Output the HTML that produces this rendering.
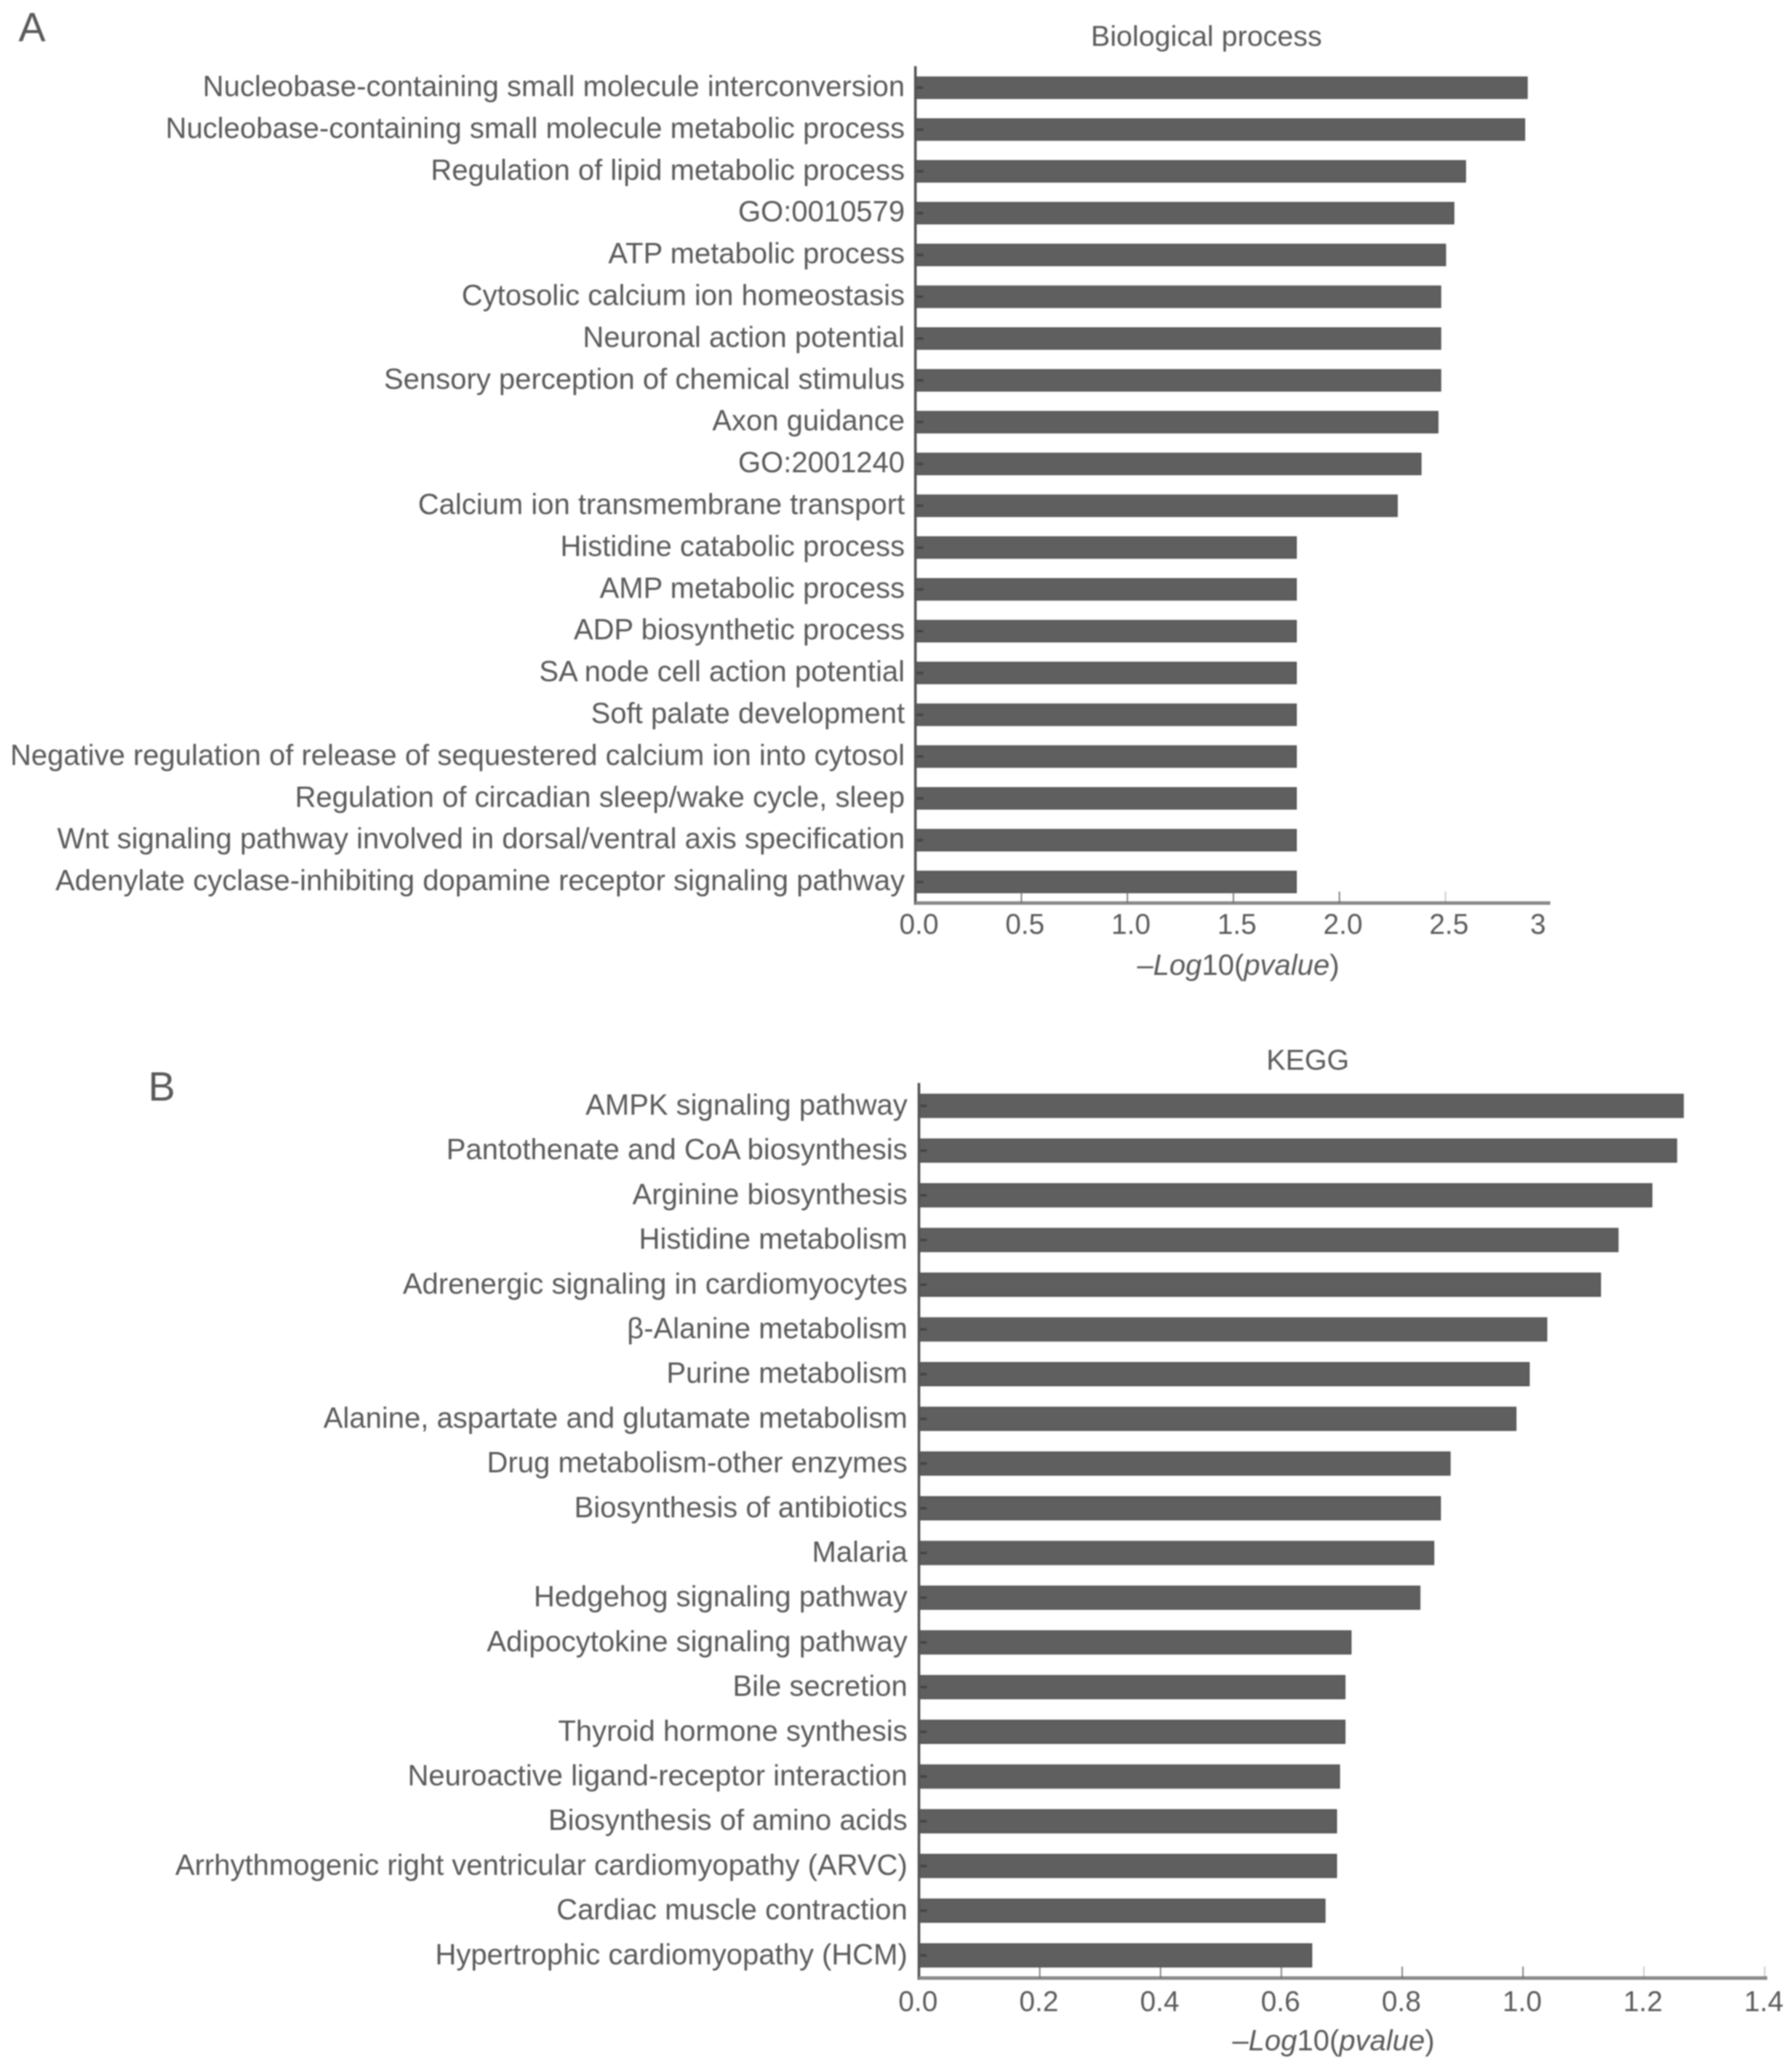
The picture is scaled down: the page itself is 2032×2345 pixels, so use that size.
<!DOCTYPE html>
<html lang="en">
<head>
<meta charset="utf-8">
<title>Biological process and KEGG enrichment</title>
<style>
html,body{margin:0;padding:0;background:#fff;}
svg{display:block;width:2032px;height:2345px;}
text{font-family:"Liberation Sans",sans-serif;fill:#5a5a5a;}
</style>
</head>
<body>
<svg id="chart" xmlns="http://www.w3.org/2000/svg" width="2032" height="2345" viewBox="0 0 2032 2345">
<defs><filter id="soft" x="-2%" y="-2%" width="104%" height="104%"><feGaussianBlur stdDeviation="0.8"/></filter></defs>
<g id="root" filter="url(#soft)"></g>
</svg>
<script>
const bpCategories = ["Nucleobase-containing small molecule interconversion","Nucleobase-containing small molecule metabolic process","Regulation of lipid metabolic process","GO:0010579","ATP metabolic process","Cytosolic calcium ion homeostasis","Neuronal action potential","Sensory perception of chemical stimulus","Axon guidance","GO:2001240","Calcium ion transmembrane transport","Histidine catabolic process","AMP metabolic process","ADP biosynthetic process","SA node cell action potential","Soft palate development","Negative regulation of release of sequestered calcium ion into cytosol","Regulation of circadian sleep/wake cycle, sleep","Wnt signaling pathway involved in dorsal/ventral axis specification","Adenylate cyclase-inhibiting dopamine receptor signaling pathway"];
const bpValues = [2.885,2.873,2.594,2.539,2.50,2.477,2.477,2.477,2.464,2.384,2.272,1.796,1.796,1.796,1.796,1.796,1.796,1.796,1.796,1.796];
const bpTicks = [0,0.5,1,1.5,2,2.5,3];
const bpTickLabels = ["0.0","0.5","1.0","1.5","2.0","2.5","3"];
const keggCategories = ["AMPK signaling pathway","Pantothenate and CoA biosynthesis","Arginine biosynthesis","Histidine metabolism","Adrenergic signaling in cardiomyocytes","β-Alanine metabolism","Purine metabolism","Alanine, aspartate and glutamate metabolism","Drug metabolism-other enzymes","Biosynthesis of antibiotics","Malaria","Hedgehog signaling pathway","Adipocytokine signaling pathway","Bile secretion","Thyroid hormone synthesis","Neuroactive ligand-receptor interaction","Biosynthesis of amino acids","Arrhythmogenic right ventricular cardiomyopathy (ARVC)","Cardiac muscle contraction","Hypertrophic cardiomyopathy (HCM)"];
const keggValues = [1.265,1.254,1.213,1.157,1.128,1.039,1.010,0.988,0.879,0.863,0.852,0.829,0.715,0.705,0.705,0.696,0.691,0.691,0.672,0.650];
const keggTicks = [0,0.2,0.4,0.6,0.8,1,1.2,1.4];
const keggTickLabels = ["0.0","0.2","0.4","0.6","0.8","1.0","1.2","1.4"];

const NS = "http://www.w3.org/2000/svg";
const root = document.getElementById("root");
function mk(parent, tag, attrs, txt) {
  const el = document.createElementNS(NS, tag);
  for (const k in attrs) el.setAttribute(k, attrs[k]);
  if (txt !== undefined) el.textContent = txt;
  parent.appendChild(el);
  return el;
}
function drawPanel(cfg) {
  const g = mk(root, "g", {});
  
  
  const xScale = v => cfg.x0 + v * cfg.unit;
  const yScale = i => cfg.firstY + i * cfg.step;

  const letter = mk(g, "text", {x: cfg.letterX, y: cfg.letterY, "font-size": 46, fill: "#444"}, cfg.letter);
  
  

  const title = mk(g, "text", {x: cfg.titleX, y: cfg.titleY, "font-size": 32.5, "text-anchor": "middle"}, cfg.title);
  
  

  cfg.categories.forEach((c, i) => {
    const label = mk(g, "text", {x: cfg.labelRight, y: yScale(i) + cfg.labelDy, "font-size": cfg.labelSize, "text-anchor": "end"}, c);
    
    
  });

  cfg.values.forEach((v, i) => {
    const bar = mk(g, "rect", {x: xScale(0), y: yScale(i) - cfg.barH / 2, width: xScale(v) - xScale(0), height: cfg.barH, fill: "#5f5f5f", stroke: "#565656", "stroke-width": 1.5});
    
    
    const mark = mk(g, "line", {x1: xScale(0), x2: xScale(0) + 9, y1: yScale(i), y2: yScale(i), stroke: "#444", "stroke-width": 3});
    
    
  });

  const yAxis = mk(g, "line", {x1: cfg.x0, x2: cfg.x0, y1: cfg.axisTop, y2: cfg.baseY + 2, stroke: "#555", "stroke-width": 3});
  
  
  const xAxis = mk(g, "line", {x1: cfg.x0, x2: cfg.axisEnd, y1: cfg.baseY, y2: cfg.baseY, stroke: "#8a8a8a", "stroke-width": 4});
  
  

  cfg.ticks.forEach((t, i) => {
    if (t > 0 && xScale(t) <= cfg.axisEnd) {
      const tick = mk(g, "line", {x1: xScale(t), x2: xScale(t), y1: cfg.baseY - 13, y2: cfg.baseY, stroke: "#666", "stroke-width": 1.5, opacity: xScale(t) > cfg.x0 + (cfg.axisEnd - cfg.x0) * 0.75 ? 0.35 : 0.9});
      
      
    }
    const lx = Math.min(xScale(t) + cfg.tickLabelDx, cfg.labelMax);
    const tl = mk(g, "text", {x: lx, y: cfg.tickLabelY, "font-size": cfg.tickSize, "text-anchor": "middle"}, cfg.tickLabels[i]);
    
    
  });

  const xt = mk(g, "text", {x: cfg.xTitleX, y: cfg.xTitleY, "font-size": 33, "text-anchor": "middle"});
  
  
  mk(xt, "tspan", {}, "–");
  mk(xt, "tspan", {"font-style": "italic"}, "Log");
  mk(xt, "tspan", {}, "10(");
  mk(xt, "tspan", {"font-style": "italic"}, "pvalue");
  mk(xt, "tspan", {}, ")");
}

drawPanel({
  name: "biological-process", letter: "A", letterX: 21, letterY: 47,
  title: "Biological process", titleX: 1368, titleY: 52,
  categories: bpCategories, values: bpValues, ticks: bpTicks, tickLabels: bpTickLabels,
  x0: 1038, unit: 240.4, firstY: 99.5, step: 47.4, barH: 24,
  labelRight: 1026, labelDy: 9.5, labelSize: 33, axisTop: 75, baseY: 1024, axisEnd: 1758,
  tickLabelDx: 4, labelMax: 1744, tickLabelY: 1059, tickSize: 32, xTitleX: 1404, xTitleY: 1105.5
});
drawPanel({
  name: "kegg", letter: "B", letterX: 168, letterY: 1248,
  title: "KEGG", titleX: 1483, titleY: 1213,
  categories: keggCategories, values: keggValues, ticks: keggTicks, tickLabels: keggTickLabels,
  x0: 1042, unit: 685, firstY: 1254, step: 50.7, barH: 26,
  labelRight: 1029, labelDy: 10, labelSize: 33, axisTop: 1228, baseY: 2243, axisEnd: 2004,
  tickLabelDx: -1, labelMax: 2000, tickLabelY: 2280.5, tickSize: 32, xTitleX: 1512, xTitleY: 2325
});
</script>
</body>
</html>
